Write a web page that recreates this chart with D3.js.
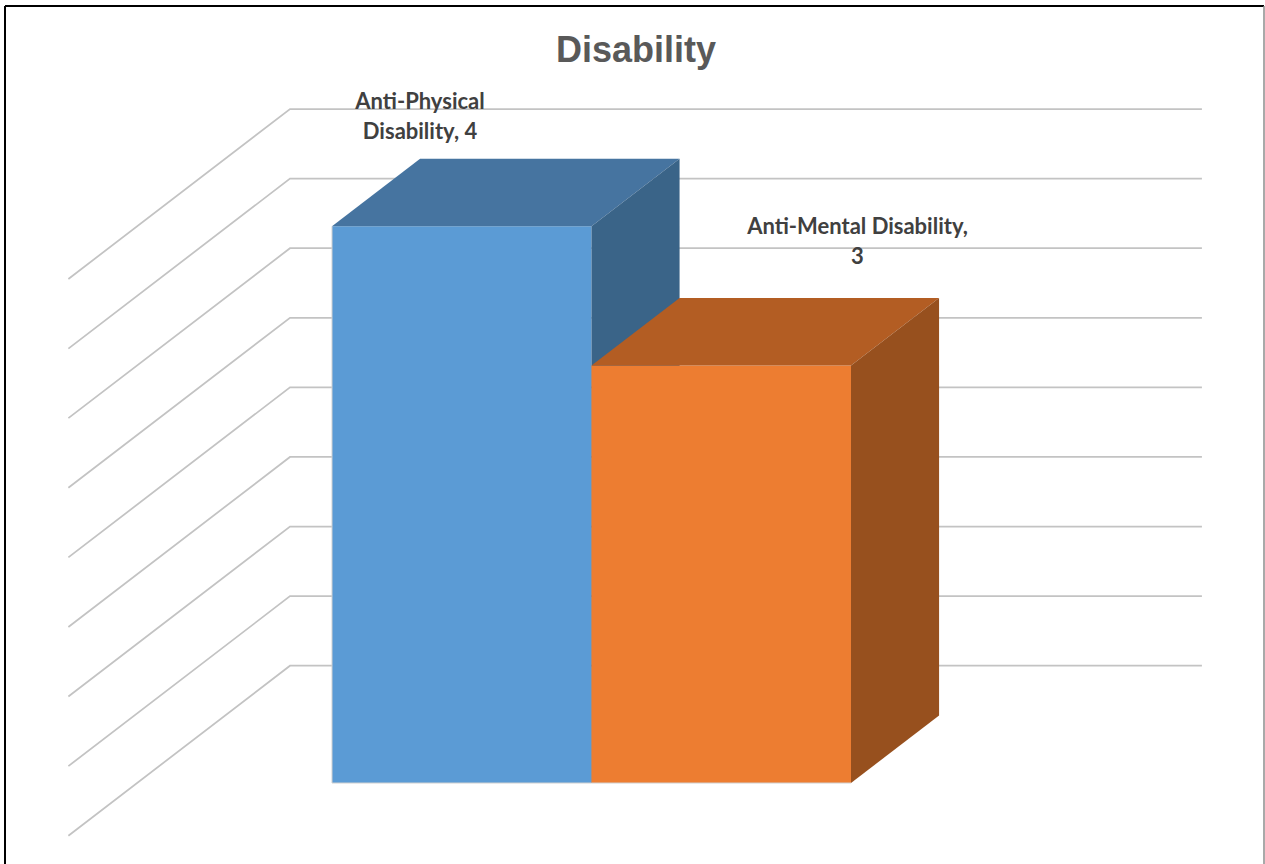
<!DOCTYPE html>
<html>
<head>
<meta charset="utf-8">
<script src="https://cdn.jsdelivr.net/npm/d3@7"></script>
<style>
  html, body { margin: 0; padding: 0; background: #fff; }
  svg { display: block; }
</style>
</head>
<body>
<svg id="chart" width="1265" height="864"></svg>
<script>
// ---- data ----
const title = "Disability";
const categories = ["Anti-Physical Disability", "Anti-Mental Disability"];
const values = [4, 3];
const gridTicks = [0, 0.5, 1, 1.5, 2, 2.5, 3, 3.5, 4];
const labelWordsOnFirstLine = [1, 2];
const frontColors = ["#5B9BD5", "#ED7D31"];
const topColors = ["#4674A0", "#B35D23"];
const sideColors = ["#3A6488", "#97501E"];

// ---- layout ----
const svg = d3.select("#chart");
const W = 1265, H = 864;

const y = d3.scaleLinear().domain([0, 4]).range([783, 226.3]);
const x = d3.scaleBand().domain(categories).range([332, 851]).paddingInner(0).paddingOuter(0);
const cosA = 0.7935, sinA = 0.6085;
const barDepth = 111;
const wallZ = 192.7;       // back wall depth
const sideFrontZ = -86.6;  // side wall front depth
const wallX0 = 137.1, wallX1 = 1049;

const proj = (px, v, z) => [px + z * cosA, y(v) - z * sinA];

// frame
svg.append("line").attr("x1", 5).attr("y1", 6).attr("x2", 5).attr("y2", H)
  .attr("stroke", "#000").attr("stroke-width", 2);
svg.append("line").attr("x1", 5).attr("y1", 6).attr("x2", 1264).attr("y2", 6)
  .attr("stroke", "#000").attr("stroke-width", 2);
svg.append("line").attr("x1", 1264).attr("y1", 6).attr("x2", 1264).attr("y2", H)
  .attr("stroke", "#8c8c8c").attr("stroke-width", 1.5);

// title
svg.append("text")
  .attr("x", 636).attr("y", 62)
  .attr("text-anchor", "middle")
  .attr("font-family", "'Liberation Sans', Arial, sans-serif")
  .attr("font-weight", "bold")
  .attr("font-size", 36)
  .attr("fill", "#595959")
  .text(title);

// gridlines
const grid = svg.append("g").attr("fill", "none").attr("stroke", "#c3c3c3").attr("stroke-width", 1.75);
gridTicks.forEach(t => {
  const a = proj(wallX0, t, sideFrontZ), b = proj(wallX0, t, wallZ), c = proj(wallX1, t, wallZ);
  grid.append("path").attr("d", d3.line()([a, b, c]));
});

// bars
const bars = svg.append("g");
categories.forEach((cat, i) => {
  const x0 = x(cat), x1 = x(cat) + x.bandwidth(), v = values[i];
  const g = bars.append("g");
  // front
  g.append("path").attr("fill", frontColors[i])
    .attr("d", d3.line()([proj(x0, 0, 0), proj(x0, v, 0), proj(x1, v, 0), proj(x1, 0, 0)]) + "Z");
  // top
  g.append("path").attr("fill", topColors[i])
    .attr("d", d3.line()([proj(x0, v, 0), proj(x0, v, barDepth), proj(x1, v, barDepth), proj(x1, v, 0)]) + "Z");
  // right side
  g.append("path").attr("fill", sideColors[i])
    .attr("d", d3.line()([proj(x1, 0, 0), proj(x1, v, 0), proj(x1, v, barDepth), proj(x1, 0, barDepth)]) + "Z");
  // subtle front edges (outer left edge and bottom)
  const edge = i === 0
    ? [proj(x0, v, 0), proj(x0, 0, 0), proj(x1, 0, 0)]
    : [proj(x0, 0, 0), proj(x1, 0, 0)];
  g.append("path").attr("fill", "none").attr("stroke", "#d0d0d0").attr("stroke-width", 1)
    .attr("d", d3.line()(edge));
});

// data labels
const labelAnchors = [
  { dx: 88, dy: -117 },
  { dx: 266, dy: -131 }
];
const labels = svg.append("g")
  .attr("font-family", "Lato, 'Open Sans', sans-serif")
  .attr("font-weight", "bold")
  .attr("font-size", 22)
  .attr("fill", "#404040")
  .attr("text-anchor", "middle");
categories.forEach((cat, i) => {
  const words = (cat + ", " + values[i]).split(" ");
  const n = labelWordsOnFirstLine[i];
  const lines = [words.slice(0, n).join(" "), words.slice(n).join(" ")];
  const cx = x(cat) + labelAnchors[i].dx;
  const by = y(values[i]) + labelAnchors[i].dy;
  const t = labels.append("text").attr("x", cx).attr("y", by);
  lines.forEach((ln, k) => {
    t.append("tspan").attr("x", cx).attr("y", by + k * 30).text(ln);
  });
});
</script>
</body>
</html>
